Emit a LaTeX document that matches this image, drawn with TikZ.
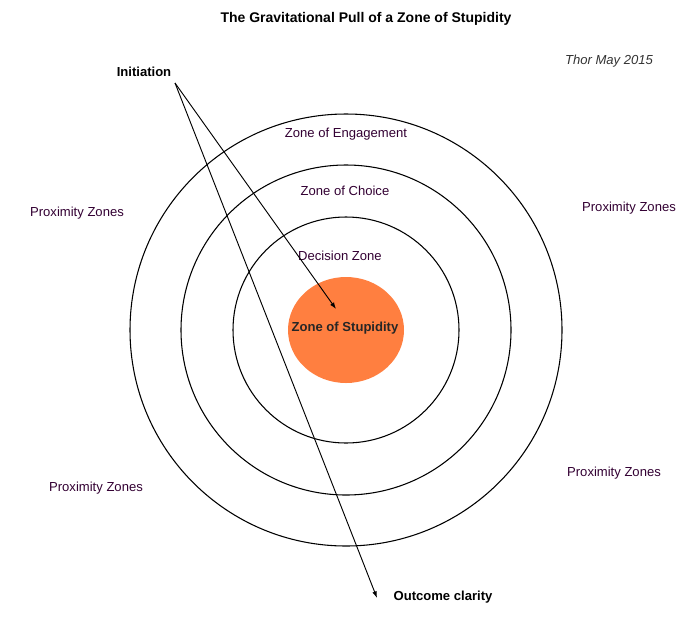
\documentclass[tikz,border=0pt]{standalone}
\usepackage{fontspec}
\setmainfont{Liberation Sans}
\usetikzlibrary{arrows.meta}
\definecolor{stupid}{RGB}{255,127,64}
\definecolor{zonetext}{RGB}{51,0,51}
\tikzset{
  ring/.style={draw=black, line width=0.8pt},
  zonelabel/.style={font=\fontsize{9.8}{12}\selectfont, text=zonetext},
  boldlabel/.style={font=\fontsize{9.8}{12}\selectfont\bfseries, text=black},
  pull/.style={line width=0.7pt, -{Latex[length=5pt,width=3.5pt]}}
}
\begin{document}
\begin{tikzpicture}[x=0.75pt, y=-0.75pt]
    \useasboundingbox[fill=white] (0,0) rectangle (698,629);

    % Centre
    \coordinate (O) at (346,330);

    % Cercles
    \draw[ring] (O) circle (216);
    \draw[ring] (O) circle (165);
    \draw[ring] (O) circle (113);
    \fill[stupid] (O) ellipse (58 and 53);

    % Titre
    \node[boldlabel, font=\fontsize{10.5}{12}\selectfont\bfseries] (title) at (366,19) {The Gravitational Pull of a Zone of Stupidity};
    \node[font=\fontsize{9.8}{12}\selectfont\itshape, text=black!80] (author) at (609,61) {Thor May 2015};

    % Labels des zones
    \node[zonelabel] (engage) at (346,134) {Zone of Engagement};
    \node[zonelabel] (choice) at (345,191) {Zone of Choice};
    \node[zonelabel] (decide) at (340,256) {Decision Zone};
    \node[boldlabel, text=black!85] (stupidity) at (345,328) {Zone of Stupidity};

    \node[zonelabel] (prox1) at (77,213) {Proximity Zones};
    \node[zonelabel] (prox2) at (629,208) {Proximity Zones};
    \node[zonelabel] (prox3) at (96,488) {Proximity Zones};
    \node[zonelabel] (prox4) at (614,473) {Proximity Zones};

    \node[boldlabel] (initiation) at (144,72) {Initiation};
    \node[boldlabel] (outcome) at (443,597) {Outcome clarity};

    % Fleches
    \coordinate (start) at (175,83);
    \coordinate (inner) at (336,309);
    \coordinate (finish) at (377,598);
    \draw[pull] (start) -- (inner);
    \draw[pull] (start) -- (finish);
\end{tikzpicture}
\end{document}
